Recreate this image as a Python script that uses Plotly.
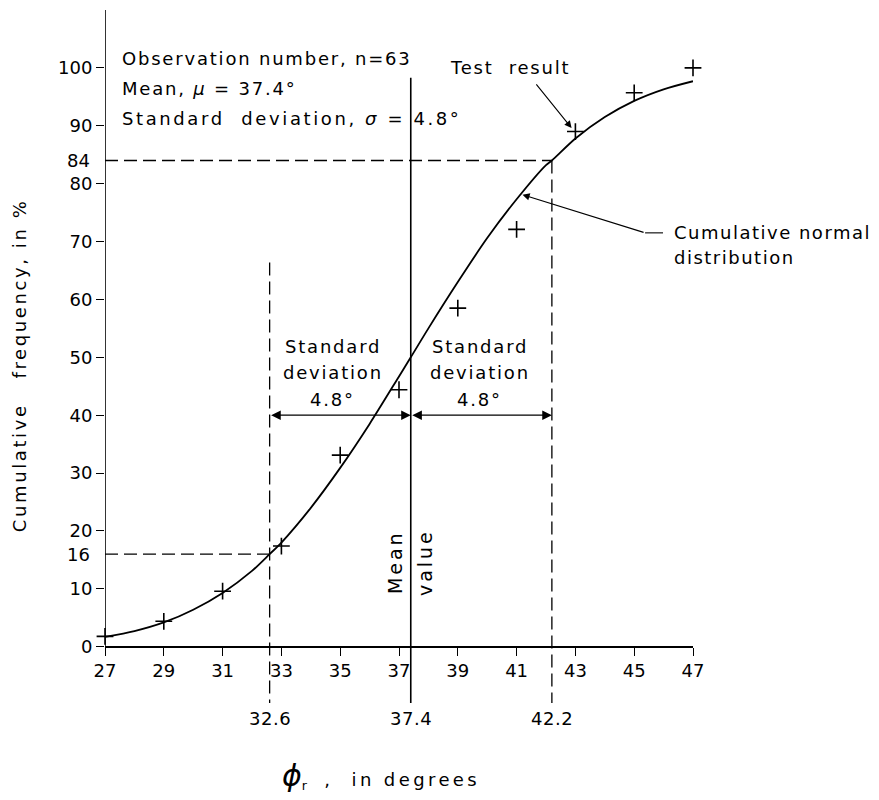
import plotly.graph_objects as go

# ---- data ----
test_x = [27, 29, 31, 33, 35, 37, 39, 41, 43, 45, 47]
test_y = [1.8, 4.4, 9.6, 17.4, 33.1, 44.4, 58.5, 72.1, 89.0, 95.7, 100.0]

curve_x = [27, 28, 29, 30, 31, 32, 32.6, 33, 34, 35, 36, 37, 37.4, 38, 39, 40,
           41, 42, 42.2, 43, 44, 45, 46, 47]
curve_y = [1.7, 2.7, 4.2, 6.4, 9.3, 13.1, 16.0, 18.0, 24.0, 30.9, 38.5, 46.7,
           50.0, 55.0, 63.0, 70.6, 77.3, 83.2, 84.0, 87.8, 91.5, 94.3, 96.3, 97.7]

x_ticks = [27, 29, 31, 33, 35, 37, 39, 41, 43, 45, 47]
y_ticks = [0, 10, 20, 30, 40, 50, 60, 70, 80, 90, 100]
extra_y_labels = [16, 84]

mean = 37.4
sd = 4.8
lo = 32.6
hi = 42.2
p_lo = 16
p_hi = 84

FONT = "DejaVu Sans"
BLK = "black"

fig = go.Figure()

fig.add_trace(go.Scatter(x=curve_x, y=curve_y, mode="lines",
                         line=dict(color=BLK, width=1.8, shape="spline", smoothing=0.8),
                         hoverinfo="skip", showlegend=False))
fig.add_trace(go.Scatter(x=test_x, y=test_y, mode="markers",
                         marker=dict(symbol="cross-thin", size=12,
                                     line=dict(color=BLK, width=1.6)),
                         cliponaxis=False, showlegend=False))

shapes = []
# y axis line (from x axis upward)
shapes.append(dict(type="line", xref="x", yref="y", x0=27, x1=27, y0=0, y1=110,
                   line=dict(color=BLK, width=1.6)))
dash = "13px,6px"
# 84% guides
shapes.append(dict(type="line", xref="x", yref="y", x0=27, x1=hi, y0=p_hi, y1=p_hi,
                   line=dict(color=BLK, width=1.3, dash=dash)))
shapes.append(dict(type="line", xref="x", yref="y", x0=hi, x1=hi, y0=p_hi, y1=-9.7,
                   line=dict(color=BLK, width=1.3, dash=dash)))
# 16% guides
shapes.append(dict(type="line", xref="x", yref="y", x0=27, x1=lo, y0=p_lo, y1=p_lo,
                   line=dict(color=BLK, width=1.3, dash=dash)))
shapes.append(dict(type="line", xref="x", yref="y", x0=lo, x1=lo, y0=66.4, y1=-9.7,
                   line=dict(color=BLK, width=1.3, dash=dash)))
# mean line
shapes.append(dict(type="line", xref="x", yref="y", x0=mean, x1=mean, y0=98.3, y1=-9.7,
                   line=dict(color=BLK, width=1.6)))
# leader stub for "Cumulative normal distribution"
shapes.append(dict(type="line", xref="x", yref="y", x0=45.37, x1=45.98, y0=71.5, y1=71.5,
                   line=dict(color=BLK, width=1.1)))

ann = []

def sp(s, ls=1.8):
    return "<span style='letter-spacing:%spx'>%s</span>" % (ls, s)

def txt(x, y, s, xanchor="center", yanchor="middle", angle=0, size=18, align="center", ls=1.8):
    ann.append(dict(x=x, y=y, xref="x", yref="y", text=sp(s, ls), showarrow=False,
                    xanchor=xanchor, yanchor=yanchor, textangle=angle, align=align,
                    font=dict(family=FONT, size=size, color=BLK)))

# header text
txt(27.5, 101.7, "Observation number, n=63", xanchor="left")
txt(27.5, 96.5, "Mean, <i>μ</i> = 37.4°", xanchor="left")
txt(27.5, 91.2, "Standard  deviation, <i>σ</i> = 4.8°", xanchor="left", ls=2.6)

# standard deviation labels
for cx in (34.75, 39.75):
    txt(cx, 51.9, "Standard")
    txt(cx, 47.4, "deviation")
    txt(cx, 42.8, "4.8°")

# mean value vertical text
txt(36.86, 14.6, "Mean", angle=-90, size=19, ls=3)
txt(37.88, 14.6, "value", angle=-90, size=19, ls=3)

# extra y labels 16 and 84
for v in extra_y_labels:
    ann.append(dict(x=27, y=v, xref="x", yref="y", text=str(v), showarrow=False,
                    xanchor="right", yanchor="middle", xshift=-13,
                    font=dict(family=FONT, size=18, color=BLK)))

# labels below x axis
for v in (lo, mean, hi):
    txt(v, -12.4, str(v), ls=0.5)

# test result
txt(40.78, 100.0, "Test  result")
ann.append(dict(x=42.87, y=89.6, ax=41.63, ay=97.4, xref="x", yref="y", axref="x", ayref="y",
                text="", showarrow=True, arrowhead=2, arrowsize=1.3, arrowwidth=1.1,
                arrowcolor=BLK))

# cumulative normal distribution
txt(46.27, 71.5, "Cumulative normal", xanchor="left", ls=1.5)
txt(46.27, 67.2, "distribution", xanchor="left", ls=1.5)
ann.append(dict(x=41.2, y=78.1, ax=45.37, ay=71.5, xref="x", yref="y", axref="x", ayref="y",
                text="", showarrow=True, arrowhead=2, arrowsize=1.3, arrowwidth=1.1,
                arrowcolor=BLK))

# double-headed sd arrows at 40%
for a, b in ((lo, mean), (mean, hi)):
    ann.append(dict(x=b, y=40, ax=a, ay=40, xref="x", yref="y", axref="x", ayref="y",
                    text="", showarrow=True, arrowhead=2, startarrowhead=2,
                    arrowside="end+start", arrowsize=1.6, startarrowsize=1.6,
                    arrowwidth=1.2, arrowcolor=BLK))

# axis titles
ann.append(dict(x=-0.145, y=48.6, xref="paper", yref="y",
                text=sp("Cumulative   frequency, in %", 2.6), showarrow=False, textangle=-90,
                xanchor="center", yanchor="middle",
                font=dict(family=FONT, size=18, color=BLK)))
ann.append(dict(x=36.4, y=-0.075, xref="x", yref="paper",
                text="<span style='font-size:30px'><i>ϕ</i></span><sub>r</sub>   " + sp(",  in degrees", 3.4),
                showarrow=False, xanchor="center", yanchor="middle",
                font=dict(family=FONT, size=18, color=BLK)))

Y0, Y1 = -13, 110
fig.update_layout(
    width=871, height=784,
    margin=dict(l=97, r=186, t=2, b=70),
    paper_bgcolor="white", plot_bgcolor="white",
    shapes=shapes, annotations=ann,
    showlegend=False,
    xaxis=dict(range=[27, 47], tickvals=x_ticks, ticktext=[str(v) for v in x_ticks],
               showgrid=False, zeroline=False, showline=True, linecolor=BLK, linewidth=1.6,
               ticks="outside", ticklen=8, tickwidth=1.4, tickcolor=BLK,
               anchor="free", position=(0 - Y0) / (Y1 - Y0),
               tickfont=dict(family=FONT, size=18, color=BLK)),
    yaxis=dict(range=[Y0, Y1], tickvals=y_ticks, ticktext=[str(v) for v in y_ticks],
               showgrid=False, zeroline=False, showline=False,
               ticks="outside", ticklen=8, tickwidth=1.4, tickcolor=BLK,
               tickfont=dict(family=FONT, size=18, color=BLK)),
)

fig.write_html("out.html")
